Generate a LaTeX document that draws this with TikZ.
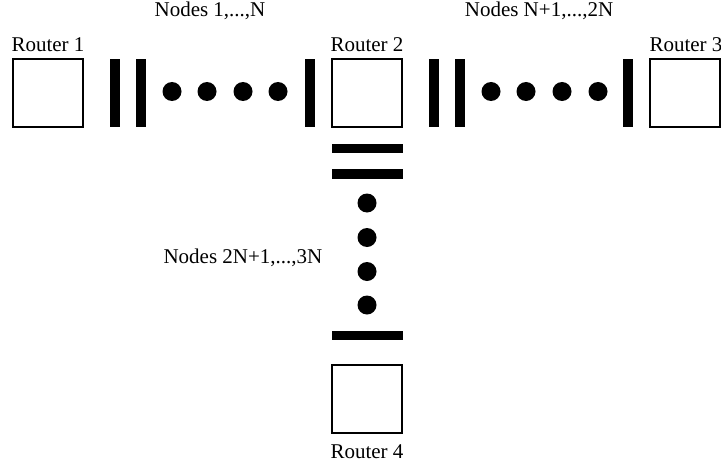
\documentclass[tikz,border=0pt]{standalone}
\usepackage{fontspec}
\setmainfont{Liberation Serif}
\begin{document}
\begin{tikzpicture}[x=0.5pt,y=-0.5pt,
  router/.style={draw=black,line width=0.6pt,fill=white,minimum width=35pt,minimum height=34pt,inner sep=0pt,outer sep=0pt},
  vbar/.style={fill=black,minimum width=5pt,minimum height=34pt,inner sep=0pt,outer sep=0pt},
  hbar/.style={fill=black,minimum width=35.5pt,minimum height=4.8pt,inner sep=0pt,outer sep=0pt},
  dot/.style={circle,fill=black,minimum size=9.5pt,inner sep=0pt,outer sep=0pt},
  lbl/.style={font=\fontsize{10.5}{12}\selectfont,inner sep=0pt,anchor=base}]
\useasboundingbox (0,0) rectangle (721,465);
% routers
\node[router] (r1) at (48,93) {};
\node[router] (r2) at (367,93) {};
\node[router] (r3) at (685,93) {};
\node[router] (r4) at (367,399) {};
% labels
\node[lbl] (l1) at (48,52) {Router 1};
\node[lbl] (l2) at (367,52) {Router 2};
\node[lbl] (l3) at (686,52) {Router 3};
\node[lbl] (l4) at (367,458) {Router 4};
\node[lbl] (n1) at (210,17) {Nodes 1,...,N};
\node[lbl] (n2) at (539,17) {Nodes N+1,...,2N};
\node[lbl] (n3) at (243,263) {Nodes 2N+1,...,3N};
% segment 1
\node[vbar] (a1) at (115,93) {};
\node[vbar] (a2) at (141,93) {};
\node[vbar] (a3) at (309.5,93) {};
\foreach \x [count=\i] in {172,207,243,278} \node[dot] (ad\i) at (\x,91.5) {};
% segment 2
\node[vbar] (b1) at (433.5,93) {};
\node[vbar] (b2) at (460,93) {};
\node[vbar] (b3) at (628,93) {};
\foreach \x [count=\i] in {491,526,562,598} \node[dot] (bd\i) at (\x,91.5) {};
% segment 3
\node[hbar] (c1) at (367,148.5) {};
\node[hbar] (c2) at (367,174) {};
\node[hbar] (c3) at (367,335.5) {};
\foreach \y [count=\i] in {203,237.5,271.5,305} \node[dot] (cd\i) at (367,\y) {};
\end{tikzpicture}
\end{document}
